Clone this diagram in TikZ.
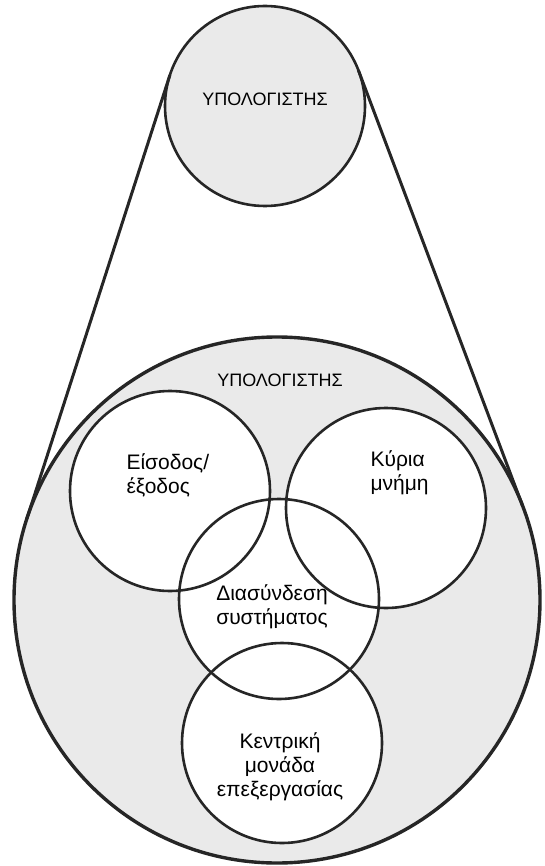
\documentclass[tikz,border=0pt]{standalone}
\usepackage{fontspec}
\setmainfont{Liberation Sans}
\usetikzlibrary{backgrounds}
\definecolor{ink}{HTML}{262626}
\definecolor{paper}{HTML}{EAEAEA}
\tikzset{
  part/.style={circle, draw=ink, line width=2.6pt, minimum size=200pt, inner sep=0pt, outer sep=0pt},
  whole/.style={part, line width=3.4pt, minimum size=526pt},
  caption/.style={font=\fontsize{18}{21}\selectfont},
  partlabel/.style={align=center, font=\fontsize{21}{24}\selectfont},
  link/.style={draw=ink, line width=3pt}
}
\begin{document}
\begin{tikzpicture}[x=1pt,y=-1pt]
\useasboundingbox (0,0) rectangle (545,866);
% the computer as one thing
\node[part] (pc) at (265,106) {};
\node[caption] (pcname) at (265,99) {ΥΠΟΛΟΓΙΣΤΗΣ};
% the computer opened up
\node[whole] (pcbig) at (277,600) {};
\node[caption] (pcbigname) at (280,380) {ΥΠΟΛΟΓΙΣΤΗΣ};
\draw[link] (pc.162) -- (pcbig.162);
\draw[link] (pc.21) -- (pcbig.21);
% its parts
\node[part] (io) at (170,491) {};
\node[part] (mem) at (386,508) {};
\node[part] (bus) at (279,599) {};
\node[part] (cpu) at (282,743) {};
\node[partlabel, align=left, anchor=west] (iolbl) at (123,475) {Είσοδος/\\έξοδος};
\node[partlabel, align=left, anchor=west] (memlbl) at (367,473) {Κύρια\\μνήμη};
\node[partlabel] (buslbl) at (272,607) {Διασύνδεση\\συστήματος};
\node[partlabel] (cpulbl) at (280,767) {Κεντρική\\μονάδα\\επεξεργασίας};
\begin{scope}[on background layer]
\fill[paper] (pc) circle[radius=100pt];
\fill[paper] (pcbig) circle[radius=263pt];
\foreach \n in {io,mem,bus,cpu}
  \fill[white] (\n) circle[radius=100pt];
\end{scope}
\end{tikzpicture}
\end{document}
